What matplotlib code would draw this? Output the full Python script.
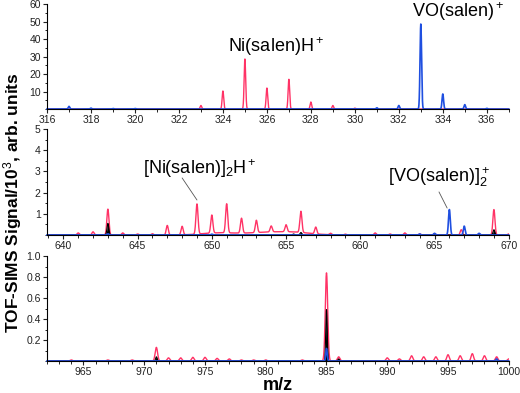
import numpy as np
import matplotlib.pyplot as plt
from matplotlib.ticker import MultipleLocator

plt.rcParams['font.family'] = ['Liberation Sans', 'DejaVu Sans']
plt.rcParams['mathtext.fontset'] = 'custom'
plt.rcParams['mathtext.rm'] = 'Liberation Sans'
plt.rcParams['mathtext.it'] = 'Liberation Sans:italic'
plt.rcParams['mathtext.bf'] = 'Liberation Sans:bold'

red = '#ff3366'
blue = '#1f4fe0'

# peak lists (m/z, height in 10^3 counts)
# panel 1: 316-337
p1_red_mz = [323, 324, 325, 326, 327, 328, 329, 330]
p1_red_h = [2.0, 10.3, 28.6, 12.0, 17.0, 4.0, 2.0, 0.5]
p1_blue_mz = [317, 318, 319, 320, 331, 332, 333, 334, 335, 336]
p1_blue_h = [1.5, 0.5, 0.3, 0.3, 0.7, 2.0, 48.6, 8.6, 2.5, 0.4]

# panel 2: 639-670
p2_red_mz = [641, 642, 643, 644, 645, 646, 647, 648, 649, 650, 651, 652, 653,
             654, 655, 656, 657, 658, 659, 661, 662, 663, 664, 665, 666.8, 668, 669, 670]
p2_red_h = [0.1, 0.15, 1.22, 0.1, 0.05, 0.06, 0.45, 0.4, 1.42, 0.85, 1.37, 0.7, 0.58,
            0.28, 0.33, 1.0, 0.32, 0.07, 0.04, 0.1, 0.05, 0.1, 0.05, 0.06, 0.25, 0.05, 1.2, 0.05]
# broad low background under the 649-657 cluster
p2_red_bg_mz = [650.5, 653.5, 655.5]
p2_red_bg_h = [0.1, 0.1, 0.12]
p2_black_mz = [643, 655.5, 656, 669]
p2_black_h = [0.55, 0.05, 0.12, 0.25]
p2_blue_mz = [643, 650, 664, 665, 666, 667, 668]
p2_blue_h = [0.06, 0.04, 0.05, 0.08, 1.2, 0.42, 0.08]

# panel 3: 962-1000
p3_red_mz = [964, 967, 969, 971, 972, 973, 974, 975, 976, 977, 978, 979, 980, 983,
             985, 986, 990, 991, 992, 993, 994, 995, 996, 997, 998, 999, 1000]
p3_red_h = [0.01, 0.01, 0.01, 0.13, 0.03, 0.03, 0.035, 0.035, 0.025, 0.02, 0.01, 0.01, 0.01, 0.01,
            0.84, 0.04, 0.03, 0.02, 0.05, 0.04, 0.04, 0.06, 0.05, 0.07, 0.05, 0.04, 0.02]
p3_black_mz = [971, 985, 986]
p3_black_h = [0.04, 0.49, 0.02]
p3_blue_mz = [985, 999]
p3_blue_h = [0.12, 0.02]


def spectrum(x, mz, h, w):
    # narrow gaussian line shape for each peak
    y = np.zeros_like(x)
    for m, a in zip(mz, h):
        y += a * np.exp(-0.5 * ((x - m) / w) ** 2)
    return y


fig = plt.figure(figsize=(5.2, 3.93), dpi=100)
boxes = [[0.0904, 0.7226, 0.888, 0.267],
         [0.0904, 0.402, 0.888, 0.27],
         [0.0904, 0.0814, 0.888, 0.267]]
axes = [fig.add_axes(b) for b in boxes]

line_kw = dict(arrowstyle='-', color='#555555', lw=0.6, shrinkA=0, shrinkB=0)

# panel 1
ax = axes[0]
x = np.linspace(316, 337, 6000)
ax.plot(x, spectrum(x, p1_red_mz, p1_red_h, 0.035), color=red, lw=1)
ax.plot(x, spectrum(x, p1_blue_mz, p1_blue_h, 0.035), color=blue, lw=1.2, clip_on=False)
ax.set_xlim(316, 337)
ax.set_ylim(0, 60)
ax.set_xticks(np.arange(316, 337, 2))
ax.set_yticks([10, 20, 30, 40, 50, 60])
ax.xaxis.set_minor_locator(MultipleLocator(1))
ax.yaxis.set_minor_locator(MultipleLocator(5))
ax.text(326.4, 35.5, 'Ni(salen)H$^+$', fontsize=13, ha='center', va='center')
ax.text(334.7, 55.5, 'VO(salen)$^+$', fontsize=13, ha='center', va='center')

# panel 2
ax = axes[1]
x = np.linspace(638.9, 670, 8000)
yr = spectrum(x, p2_red_mz, p2_red_h, 0.07) + spectrum(x, p2_red_bg_mz, p2_red_bg_h, 1.2)
ax.plot(x, yr, color=red, lw=1)
yb = spectrum(x, p2_black_mz, p2_black_h, 0.06)
ax.fill_between(x, 0, yb, color='black', lw=0)
ax.plot(x, yb, color='black', lw=0.8)
ax.plot(x, spectrum(x, p2_blue_mz, p2_blue_h, 0.06), color=blue, lw=1.2, clip_on=False)
ax.set_xlim(638.9, 670)
ax.set_ylim(0, 5)
ax.set_xticks(np.arange(640, 671, 5))
ax.set_yticks([1, 2, 3, 4, 5])
ax.xaxis.set_minor_locator(MultipleLocator(1))
ax.yaxis.set_minor_locator(MultipleLocator(0.5))
ax.text(649.2, 3.15, '[Ni(salen)]$_2$H$^+$', fontsize=13, ha='center', va='center')
ax.annotate('', xy=(649.0, 1.65), xytext=(648.0, 2.69), arrowprops=line_kw)
ax.text(665.3, 2.75, '[VO(salen)]$_2^+$', fontsize=13, ha='center', va='center')
ax.annotate('', xy=(665.85, 1.27), xytext=(665.3, 2.03), arrowprops=line_kw)

# panel 3
ax = axes[2]
x = np.linspace(962, 1000, 8000)
ax.plot(x, spectrum(x, p3_red_mz, p3_red_h, 0.1), color=red, lw=1)
yb = spectrum(x, p3_black_mz, p3_black_h, 0.06)
ax.fill_between(x, 0, yb, color='black', lw=0)
ax.plot(x, yb, color='black', lw=0.8)
ax.plot(x, spectrum(x, p3_blue_mz, p3_blue_h, 0.06), color=blue, lw=1.2, clip_on=False)
ax.set_xlim(962, 1000)
ax.set_ylim(0, 1.0)
ax.set_xticks(np.arange(965, 1001, 5))
ax.set_yticks([0.2, 0.4, 0.6, 0.8, 1.0])
ax.xaxis.set_minor_locator(MultipleLocator(1))
ax.yaxis.set_minor_locator(MultipleLocator(0.1))

for ax in axes:
    ax.spines['top'].set_visible(False)
    ax.spines['right'].set_visible(False)
    ax.tick_params(axis='both', which='major', labelsize=7.5, length=3, width=0.8,
                   colors='#222222', pad=1.5)
    ax.tick_params(axis='both', which='minor', length=1.8, width=0.6)

fig.text(0.535, 1 - 385 / 393, 'm/z', fontsize=13, fontweight='bold',
         ha='center', va='center')
fig.text(0.024, 0.485, 'TOF-SIMS Signal/10$^3$, arb. units', rotation=90,
         fontsize=12.5, fontweight='bold', ha='center', va='center')

fig.savefig('out.png', dpi=100)
